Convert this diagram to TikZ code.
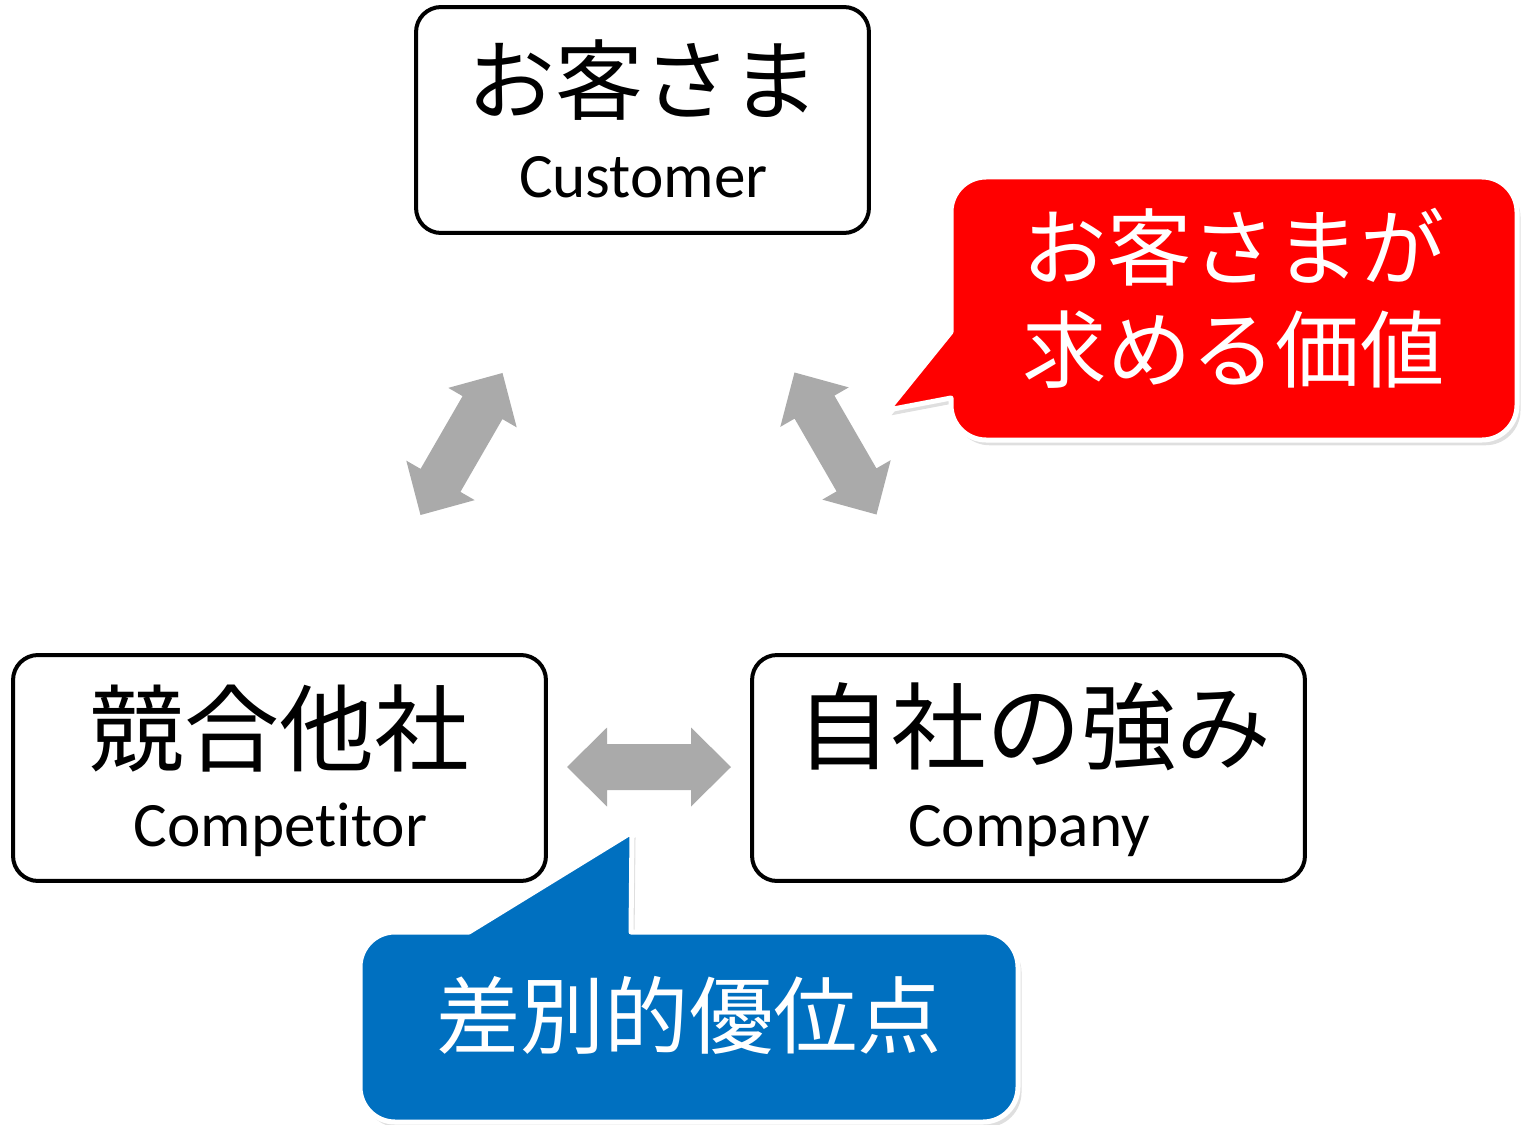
\documentclass[tikz,border=0pt]{standalone}
\usepackage{fontspec}
\setmainfont{Carlito}[Ligatures=NoCommon]
\newfontfamily\jpfont{Noto Sans CJK JP}
\usetikzlibrary{shadows}

\definecolor{arrowgray}{HTML}{AAAAAA}
\definecolor{calloutred}{HTML}{FF0000}
\definecolor{calloutblue}{HTML}{0070C0}

\tikzset{
  pane/.style={draw, line width=0.08cm, rounded corners=0.5cm, fill=white, inner sep=0pt},
  jptitle/.style={font=\jpfont\fontsize{54}{60}\selectfont, anchor=base, inner sep=0pt},
  entitle/.style={font=\fontsize{36}{40}\selectfont, anchor=base, inner sep=0pt},
  callout/.style={draw=white, line width=0.1cm, line join=round,
    drop shadow={shadow xshift=2pt, shadow yshift=-3pt, opacity=0.25}},
  calltext/.style={text=white, font=\jpfont\fontsize{48}{56}\selectfont, anchor=base, inner sep=0pt},
  dblarrow/.pic={
    \fill[arrowgray]
      (-82,0) -- (-42,39.5) -- (-42,23) -- (42,23) -- (42,39.5)
      -- (82,0) -- (42,-39.5) -- (42,-23) -- (-42,-23) -- (-42,-39.5) -- cycle;
  }
}

\begin{document}
\begin{tikzpicture}[
    x=0.02cm,
    y=-0.02cm,
    line join=round
  ]
  \useasboundingbox (0,0) rectangle (1531,1125);

  % the three parties
  \node[pane, minimum width=9.06cm, minimum height=4.52cm] (customer) at (642.5,120) {};
  \node[pane, minimum width=10.66cm, minimum height=4.52cm] (competitor) at (279.5,768) {};
  \node[pane, minimum width=11.06cm, minimum height=4.52cm] (company) at (1028.5,768) {};

  \node[jptitle, font=\jpfont\fontsize{50}{56}\selectfont] (customerjp) at (643.5,114) {お客さま};
  \node[entitle] (customeren) at (643.5,198) {Customer};
  \node[jptitle] (competitorjp) at (279.5,764) {競合他社};
  \node[entitle] (competitoren) at (280.5,846) {Competitor};
  \node[jptitle] (companyjp) at (1034,762) {自社の強み};
  \node[entitle] (companyen) at (1029,846) {Company};

  % block arrows between them
  \pic[rotate=60] at (461.5,444) {dblarrow};
  \pic[rotate=-60] at (835.5,443.5) {dblarrow};
  \pic at (649,767) {dblarrow};

  % callouts
  \path[callout, fill=calloutred, rounded corners=0.7cm]
    (1234,177) -- (1517,177) -- (1517,440) -- (951,440)
    [sharp corners] -- (951,398) -- (888,410) -- (951,332)
    [rounded corners=0.7cm] -- (951,177) -- cycle;
  \node[calltext] (valueone) at (1233.5,279) {お客さまが};
  \node[calltext] (valuetwo) at (1233.5,381) {求める価値};

  \path[callout, fill=calloutblue, rounded corners=0.7cm]
    (689,1122) -- (360,1122) -- (360,932)
    [sharp corners] -- (469,932) -- (632,832) -- (631,932)
    [rounded corners=0.7cm] -- (1018,932) -- (1018,1122) -- cycle;
  \node[calltext] (advantage) at (689,1047) {差別的優位点};
\end{tikzpicture}
\end{document}
